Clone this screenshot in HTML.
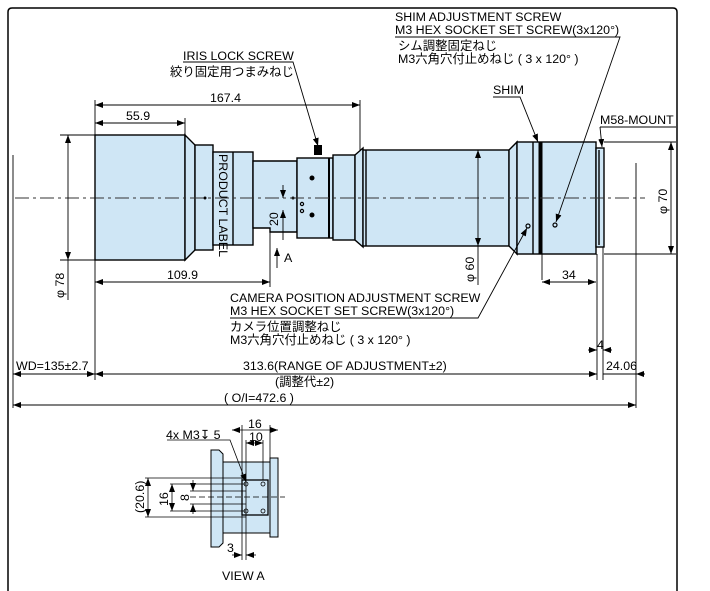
<!DOCTYPE html><html><head><meta charset="utf-8"><style>body{margin:0;background:#fff}svg{display:block}text{font-family:"Liberation Sans","Noto Sans CJK JP",sans-serif;font-size:12.4px;fill:#000}</style></head><body>
<svg width="710" height="591" viewBox="0 0 710 591" xmlns="http://www.w3.org/2000/svg">
<defs><marker id="a" markerWidth="8" markerHeight="6" refX="8" refY="3" orient="auto-start-reverse" markerUnits="userSpaceOnUse"><path d="M0,0L8,3L0,6z" fill="#000"/></marker></defs>
<path d="M8,600V12Q8,8 12,8H673Q677,8 677,12V600" fill="none" stroke="#000" stroke-width="1.5"/>
<g fill="#cfe6f5" stroke="#000" stroke-width="1.4">
<rect x="95" y="135" width="90" height="125"/>
<path d="M185,135L195,145V250L185,260z"/>
<rect x="195" y="145" width="18" height="105"/>
<rect x="213" y="152" width="40" height="93"/>
<path d="M253,161H297V232H270V228H253z"/>
<rect x="297" y="158" width="36" height="80"/>
<rect x="333" y="155" width="22" height="85"/>
<path d="M355,155L363,148V247L355,240z"/>
<rect x="363" y="150" width="146" height="96"/>
<path d="M509,150L517,142V254L509,246z"/>
<rect x="517" y="142" width="79" height="112"/>
<rect x="596" y="148" width="8" height="99"/>
</g>
<g stroke="#000" stroke-width="1.4">
<line x1="233" y1="152" x2="233" y2="245"/><line x1="366" y1="150" x2="366" y2="246"/>
<line x1="533" y1="142" x2="533" y2="254"/><line x1="540.5" y1="142" x2="540.5" y2="254" stroke-width="4"/>
<line x1="329" y1="158" x2="329" y2="238" stroke-width="2"/>
<line x1="599" y1="150" x2="599" y2="245"/>
</g>
<rect x="314" y="145" width="8" height="10" fill="#000"/>
<g fill="#000"><circle cx="312" cy="178" r="2.5"/><circle cx="312" cy="215" r="2.5"/><circle cx="205" cy="198" r="1.5"/><circle cx="293" cy="198" r="1.5"/></g>
<g fill="none" stroke="#000" stroke-width="1.2"><circle cx="302" cy="204" r="1.6"/><circle cx="302" cy="211" r="1.6"/><circle cx="528" cy="226" r="2"/><circle cx="555" cy="225" r="2"/></g>
<line x1="15" y1="198" x2="645" y2="198" stroke="#333" stroke-dasharray="14,4,3,4"/>
<text x="219" y="154" transform="rotate(90 219 154)" font-size="10.5">PRODUCT LABEL</text>
<g stroke="#000" stroke-width="0.9" fill="none">
<line x1="13" y1="155" x2="13" y2="408"/><line x1="636" y1="163" x2="636" y2="408"/>
<line x1="95" y1="100" x2="95" y2="380"/><line x1="360" y1="100" x2="360" y2="150"/><line x1="185" y1="118" x2="185" y2="135"/>
<line x1="270" y1="230" x2="270" y2="287"/>
<line x1="60" y1="135" x2="95" y2="135"/><line x1="60" y1="260" x2="95" y2="260"/>
<line x1="604" y1="142" x2="676" y2="142"/><line x1="604" y1="254" x2="676" y2="254"/>
<line x1="542" y1="254" x2="542" y2="280"/><line x1="597" y1="254" x2="597" y2="380"/><line x1="603" y1="247" x2="603" y2="380"/>
<line x1="95" y1="105" x2="360" y2="105" marker-start="url(#a)" marker-end="url(#a)"/>
<line x1="95" y1="123" x2="185" y2="123" marker-start="url(#a)" marker-end="url(#a)"/>
<line x1="95" y1="282" x2="270" y2="282" marker-start="url(#a)" marker-end="url(#a)"/>
<line x1="68" y1="135" x2="68" y2="260" marker-start="url(#a)" marker-end="url(#a)"/>
<line x1="68" y1="260" x2="68" y2="300"/>
<line x1="478" y1="150" x2="478" y2="246" marker-start="url(#a)" marker-end="url(#a)"/>
<line x1="478" y1="246" x2="478" y2="285"/>
<line x1="671" y1="142" x2="671" y2="254" marker-start="url(#a)" marker-end="url(#a)"/>
<line x1="542" y1="282" x2="596" y2="282" marker-start="url(#a)" marker-end="url(#a)"/>
<line x1="283" y1="210" x2="283" y2="240" marker-start="url(#a)"/><line x1="283" y1="185" x2="283" y2="198" marker-end="url(#a)"/>
<line x1="277" y1="268" x2="277" y2="248" marker-end="url(#a)"/>
<line x1="13" y1="374" x2="95" y2="374" marker-start="url(#a)" marker-end="url(#a)"/>
<line x1="95" y1="374" x2="597" y2="374" marker-start="url(#a)" marker-end="url(#a)"/>
<line x1="645" y1="374" x2="636" y2="374" marker-end="url(#a)"/><line x1="603" y1="374" x2="636" y2="374"/>
<line x1="588" y1="350" x2="597" y2="350" marker-end="url(#a)"/><line x1="612" y1="350" x2="603" y2="350" marker-end="url(#a)"/>
<line x1="13" y1="405" x2="636" y2="405" marker-start="url(#a)" marker-end="url(#a)"/>
<path d="M183,62H293L318,146" marker-end="url(#a)"/>
<path d="M395,37H620L556,222" marker-end="url(#a)"/>
<path d="M493,97H520L538,142" marker-end="url(#a)"/>
<path d="M600,127H676"/><path d="M600,127L602,147" marker-end="url(#a)"/>
<path d="M230,318H478L527,228" marker-end="url(#a)"/>
</g>
<text x="210" y="102">167.4</text><text x="126" y="120">55.9</text><text x="167" y="279">109.9</text>
<text x="278" y="226" transform="rotate(-90 278 226)">20</text><text x="284" y="262">A</text>
<text x="64" y="298" transform="rotate(-90 64 298)">φ 78</text>
<text x="474" y="282" transform="rotate(-90 474 282)">φ 60</text>
<text x="667" y="214" transform="rotate(-90 667 214)">φ 70</text>
<text x="562" y="279">34</text>
<text x="183" y="60">IRIS LOCK SCREW</text><text x="170" y="76">絞り固定用つまみねじ</text>
<text x="395" y="21">SHIM ADJUSTMENT SCREW</text><text x="395" y="34">M3 HEX SOCKET SET SCREW(3x120°)</text>
<text x="398" y="50">シム調整固定ねじ</text><text x="398" y="63">M3六角穴付止めねじ ( 3 x 120° )</text>
<text x="493" y="94">SHIM</text><text x="600" y="124">M58-MOUNT</text>
<text x="230" y="302">CAMERA POSITION ADJUSTMENT SCREW</text><text x="230" y="315">M3 HEX SOCKET SET SCREW(3x120°)</text>
<text x="230" y="331">カメラ位置調整ねじ</text><text x="230" y="344">M3六角穴付止めねじ ( 3 x 120° )</text>
<text x="597" y="349" font-size="11">4</text>
<text x="16" y="370">WD=135±2.7</text><text x="243" y="370">313.6(RANGE OF ADJUSTMENT±2)</text>
<text x="606" y="370">24.06</text><text x="275" y="386">(調整代±2)</text><text x="224" y="402">( O/I=472.6 )</text>
<g fill="#cfe6f5" stroke="#000" stroke-width="1">
<path d="M211,450H219L223,454V543L219,547H211z"/>
<rect x="223" y="462" width="47" height="71"/>
<rect x="270" y="458" width="8" height="79"/>
<rect x="242" y="480" width="26" height="35" stroke-width="1.3"/>
</g>
<g fill="none" stroke="#000" stroke-width="0.8">
<circle cx="246" cy="484" r="2"/><circle cx="263" cy="484" r="2"/><circle cx="246" cy="511" r="2"/><circle cx="263" cy="511" r="2"/>
<line x1="190" y1="497" x2="285" y2="497" stroke-dasharray="6,3"/>
<line x1="145" y1="478" x2="246" y2="478"/><line x1="170" y1="484" x2="246" y2="484"/><line x1="190" y1="491" x2="246" y2="491"/>
<line x1="145" y1="517" x2="246" y2="517"/><line x1="170" y1="511" x2="246" y2="511"/><line x1="190" y1="504" x2="246" y2="504"/>
<line x1="148" y1="478" x2="148" y2="517" marker-start="url(#a)" marker-end="url(#a)"/>
<line x1="172" y1="484" x2="172" y2="511" marker-start="url(#a)" marker-end="url(#a)"/>
<line x1="193" y1="480" x2="193" y2="491" marker-end="url(#a)"/><line x1="193" y1="514" x2="193" y2="504" marker-end="url(#a)"/>
<line x1="242" y1="425" x2="242" y2="560"/><line x1="246" y1="440" x2="246" y2="560"/><line x1="263" y1="440" x2="263" y2="480"/><line x1="270" y1="425" x2="270" y2="458"/>
<line x1="232" y1="430" x2="278" y2="430" marker-start="url(#a)" marker-end="url(#a)"/>
<line x1="246" y1="443" x2="263" y2="443" marker-start="url(#a)" marker-end="url(#a)"/>
<line x1="232" y1="555" x2="242" y2="555" marker-end="url(#a)"/><line x1="256" y1="555" x2="246" y2="555" marker-end="url(#a)"/>
<path d="M167,440H230L246,482" marker-end="url(#a)"/>
</g>
<text x="166" y="439" font-size="11">4x M3↧ 5</text><text x="248" y="428" font-size="11">16</text><text x="249" y="441" font-size="11">10</text>
<text x="144" y="513" font-size="11" transform="rotate(-90 144 513)">(20.6)</text>
<text x="168" y="506" font-size="11" transform="rotate(-90 168 506)">16</text>
<text x="189" y="501" font-size="11" transform="rotate(-90 189 501)">8</text>
<text x="227" y="552" font-size="11">3</text><text x="222" y="580" font-size="11">VIEW A</text>
</svg></body></html>
